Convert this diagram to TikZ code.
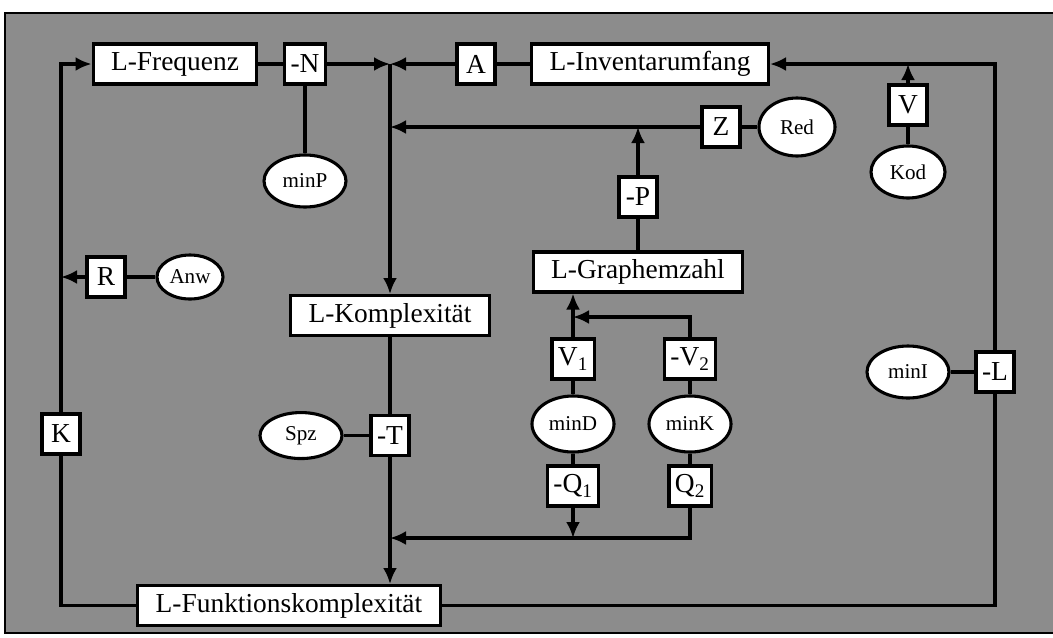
\documentclass[tikz,border=0pt]{standalone}
\usepackage{fontspec}
\setmainfont{Liberation Serif}
\usepackage{tikz}
\usetikzlibrary{arrows.meta,positioning,shapes.geometric}
\definecolor{scangray}{gray}{0.55}

\begin{document}
\begin{tikzpicture}[on grid,line width=2.2pt,
   box/.style={draw,fill=white,line width=2.2pt,inner xsep=4.5mm,minimum height=10mm,
               font=\fontsize{19.5}{22}\selectfont},
   sbox/.style={box,inner xsep=1.5mm,minimum width=9.5mm},
   ell/.style={draw,fill=white,line width=2.2pt,ellipse,inner sep=0pt,minimum width=20.5mm,
               minimum height=13mm,font=\fontsize{15}{18}\selectfont},
   arr/.style={-{Latex[length=4mm,width=3.5mm]}}]
  \useasboundingbox (0,0) rectangle (263.25mm,-159.25mm);
  \fill[scangray] (1.25mm,-3.25mm) rectangle (264mm,-158.25mm);
  \draw[line width=1.5pt] (264mm,-3.25mm) -- (1.25mm,-3.25mm) -- (1.25mm,-158.25mm) -- (264mm,-158.25mm);

  \node[box] (freq) at (43.75mm,-16mm) {L-Frequenz};
  \node[sbox,right=32.5mm of freq] (negN) {-N};
  \coordinate[right=21.25mm of negN] (jn);
  \node[sbox,right=42.75mm of negN] (A) {A};
  \node[box,right=43.5mm of A] (inv) {L-Inventarumfang};
  \node[ell,below=29.25mm of negN] (minP) {minP};
  \node[box,below=57.5mm of jn] (komp) {L-Komplexität};
  \node[sbox,below right=15.75mm and 17.75mm of inv] (Z) {Z};
  \node[ell,right=19mm of Z,minimum width=19mm,minimum height=14.5mm] (Red) {Red};
  \node[sbox,below right=10.25mm and 64.5mm of inv] (V) {V};
  \node[ell,below=16.75mm of V,minimum width=18.5mm] (Kod) {Kod};
  \node[box,below left=52mm and 3mm of inv] (graph) {L-Graphemzahl};
  \node[sbox,above=18.75mm of graph] (negP) {-P};
  \node[sbox,below left=53.25mm and 17.25mm of freq] (R) {R};
  \node[ell,right=21mm of R,minimum width=16.5mm,minimum height=11mm] (Anw) {Anw};
  \node[sbox,below left=92.5mm and 28.5mm of freq] (K) {K};
  \node[sbox,below=30mm of komp] (negT) {-T};
  \node[ell,left=22.25mm of negT,minimum height=11.5mm] (Spz) {Spz};
  \node[box,below left=72.5mm and 25.25mm of komp] (funk) {L-Funktionskomplexität};
  \node[sbox,below left=21.75mm and 16.25mm of graph] (V1) {V\textsubscript{1}};
  \node[sbox,right=29.25mm of V1] (negV2) {-V\textsubscript{2}};
  \node[ell,below=16.25mm of V1,minimum height=14mm] (minD) {minD};
  \node[ell,below=16.25mm of negV2,minimum height=14mm] (minK) {minK};
  \node[sbox,below=15.5mm of minD] (negQ1) {-Q\textsubscript{1}};
  \node[sbox,below=15.5mm of minK] (Q2) {Q\textsubscript{2}};
  \coordinate[below=13mm of Q2] (qj);
  \coordinate[above=10.5mm of negV2] (vj);
  \node[sbox,below right=77mm and 86.25mm of inv] (negL) {-L};
  \node[ell,left=21.75mm of negL] (minI) {minI};

  \draw (freq) -- (negN);
  \draw[arr] (negN) -- (jn);
  \draw (inv) -- (A);
  \draw[arr] (A) -- (jn);
  \draw[arr] (jn) -- (komp);
  \draw (negN) -- (minP);
  \draw (Red) -- (Z);
  \draw[arr] (Z) -- (Z -| komp);
  \draw (graph) -- (negP);
  \draw[arr] (negP) -- (negP |- Z);
  \draw (Kod) -- (V);
  \draw[arr] (V) -- (V |- inv);
  \draw (funk) -| (negL);
  \draw[arr] (negL) |- (inv);
  \draw (minI) -- (negL);
  \draw (funk) -| (K);
  \draw[arr] (K) |- (freq);
  \draw (Anw) -- (R);
  \draw[arr] (R) -- (R -| K);
  \draw (komp) -- (negT);
  \draw (Spz) -- (negT);
  \draw[arr] (negT) -- (negT |- funk.north);
  \draw[arr] (V1) -- (V1 |- graph.south);
  \draw (V1) -- (minD) -- (negQ1);
  \draw (negV2) -- (minK) -- (Q2);
  \draw[arr] (negV2) -- (vj) -- (vj -| V1);
  \draw[arr] (negQ1) -- (negQ1 |- qj);
  \draw[arr] (Q2) -- (qj) -- (qj -| komp);
\end{tikzpicture}
\end{document}
